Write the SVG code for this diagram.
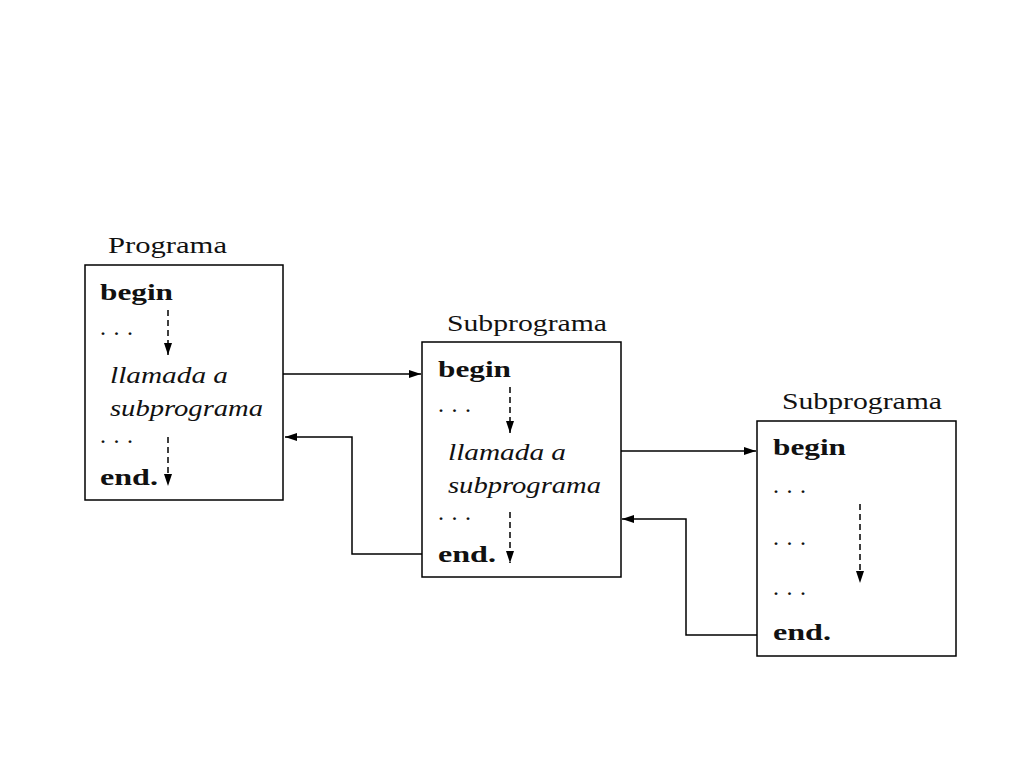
<svg xmlns="http://www.w3.org/2000/svg" width="1024" height="768" viewBox="0 0 1024 768">
<style>
.box{fill:#fff;stroke:#000;stroke-width:1.5}
.t{font-family:"Liberation Serif",serif;font-size:24px;fill:#111}
.b{font-weight:bold}
.i{font-style:italic}
.d{font-size:24px}
.c{fill:none;stroke:#000;stroke-width:1.5}
.dash{fill:none;stroke:#000;stroke-width:1.5;stroke-dasharray:6,4}
</style>
<defs>
<marker id="ah" markerWidth="12" markerHeight="8" refX="12" refY="4" orient="auto" markerUnits="userSpaceOnUse">
<path d="M0,0 L12,4 L0,8 Z" fill="#000"/>
</marker>
</defs>
<rect width="1024" height="768" fill="#fff"/>
<g id="programa">
<text class="t" x="108" y="253" textLength="119" lengthAdjust="spacingAndGlyphs">Programa</text>
<rect class="box" x="85" y="265" width="198" height="235"/>
<text class="t b" x="100" y="300" textLength="73" lengthAdjust="spacingAndGlyphs">begin</text>
<text class="t" x="100" y="335" textLength="33" lengthAdjust="spacing">. . .</text>
<text class="t i" x="110" y="383" textLength="118" lengthAdjust="spacingAndGlyphs">llamada a</text>
<text class="t i" x="110" y="416" textLength="153" lengthAdjust="spacingAndGlyphs">subprograma</text>
<text class="t" x="100" y="443" textLength="33" lengthAdjust="spacing">. . .</text>
<text class="t b" x="100" y="485" textLength="58" lengthAdjust="spacingAndGlyphs">end.</text>
<line class="dash" x1="168" y1="310" x2="168" y2="355" marker-end="url(#ah)"/>
<line class="dash" x1="168" y1="437" x2="168" y2="486" marker-end="url(#ah)"/>
</g>
<g id="subprograma1">
<text class="t" x="447" y="331" textLength="160" lengthAdjust="spacingAndGlyphs">Subprograma</text>
<rect class="box" x="422" y="342" width="199" height="235"/>
<text class="t b" x="438" y="377" textLength="73" lengthAdjust="spacingAndGlyphs">begin</text>
<text class="t" x="438" y="412" textLength="33" lengthAdjust="spacing">. . .</text>
<text class="t i" x="448" y="460" textLength="118" lengthAdjust="spacingAndGlyphs">llamada a</text>
<text class="t i" x="448" y="493" textLength="153" lengthAdjust="spacingAndGlyphs">subprograma</text>
<text class="t" x="438" y="520" textLength="33" lengthAdjust="spacing">. . .</text>
<text class="t b" x="438" y="562" textLength="58" lengthAdjust="spacingAndGlyphs">end.</text>
<line class="dash" x1="510" y1="387" x2="510" y2="433" marker-end="url(#ah)"/>
<line class="dash" x1="510" y1="512" x2="510" y2="563" marker-end="url(#ah)"/>
</g>
<g id="subprograma2">
<text class="t" x="782" y="409" textLength="160" lengthAdjust="spacingAndGlyphs">Subprograma</text>
<rect class="box" x="757" y="421" width="199" height="235"/>
<text class="t b" x="773" y="455" textLength="73" lengthAdjust="spacingAndGlyphs">begin</text>
<text class="t" x="773" y="493" textLength="33" lengthAdjust="spacing">. . .</text>
<text class="t" x="773" y="545" textLength="33" lengthAdjust="spacing">. . .</text>
<text class="t" x="773" y="595" textLength="33" lengthAdjust="spacing">. . .</text>
<text class="t b" x="773" y="640" textLength="58" lengthAdjust="spacingAndGlyphs">end.</text>
<line class="dash" x1="860" y1="504" x2="860" y2="583" marker-end="url(#ah)"/>
</g>
<g id="connectors">
<line class="c" x1="283" y1="374" x2="421" y2="374" marker-end="url(#ah)"/>
<polyline class="c" points="422,554 352,554 352,437 285,437" marker-end="url(#ah)"/>
<line class="c" x1="621" y1="451" x2="756" y2="451" marker-end="url(#ah)"/>
<polyline class="c" points="757,635 686,635 686,519 622,519" marker-end="url(#ah)"/>
</g>
</svg>
